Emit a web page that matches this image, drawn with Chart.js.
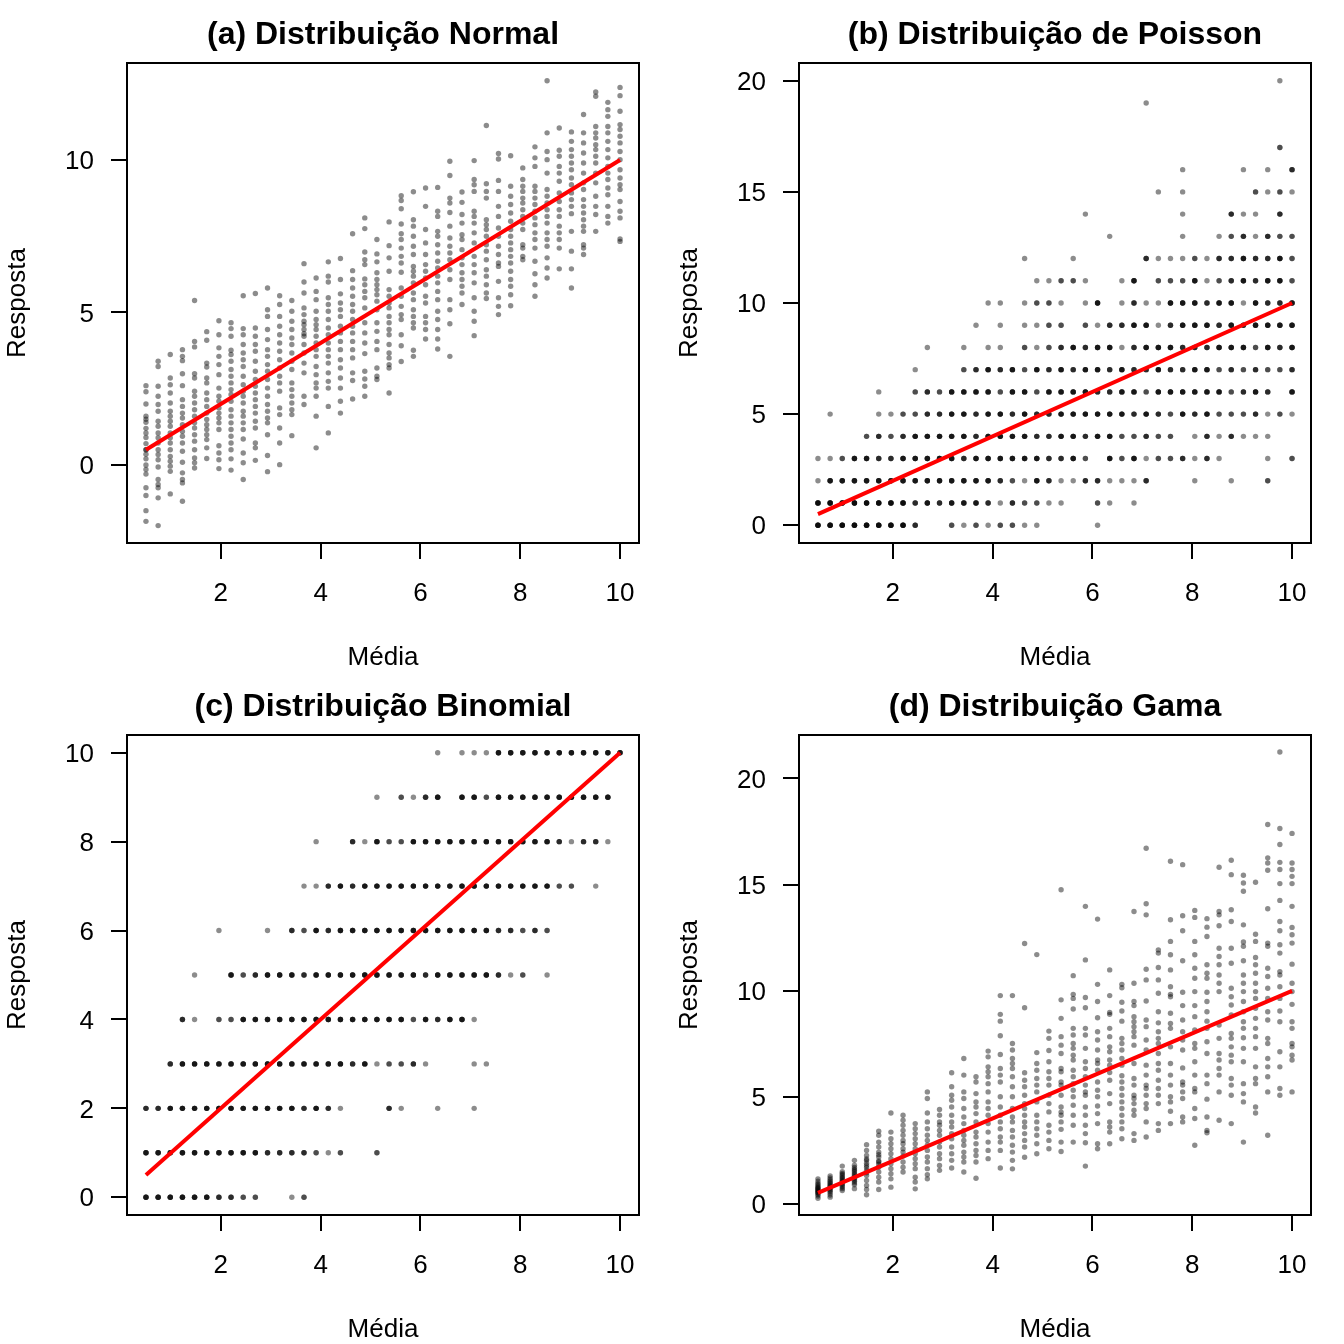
<!DOCTYPE html>
<html>
<head>
<meta charset="utf-8">
<script src="https://cdn.jsdelivr.net/npm/chart.js@4.4.1/dist/chart.umd.min.js"></script>
<style>
  html, body { margin: 0; padding: 0; background: #fff; }
  #grade { position: relative; width: 1344px; height: 1344px; }
  #grade canvas { position: absolute; }
</style>
</head>
<body>
<div id="grade">
  <canvas id="painelA" width="672" height="672" style="left:0;top:0"></canvas>
  <canvas id="painelB" width="672" height="672" style="left:672px;top:0"></canvas>
  <canvas id="painelC" width="672" height="672" style="left:0;top:672px"></canvas>
  <canvas id="painelD" width="672" height="672" style="left:672px;top:672px"></canvas>
</div>
<script>
// medias usadas no eixo x (40 colunas)
const mediaCols = [0.5, 0.744, 0.987, 1.231, 1.474, 1.718, 1.962, 2.205, 2.449, 2.692,
  2.936, 3.179, 3.423, 3.667, 3.91, 4.154, 4.397, 4.641, 4.885, 5.128,
  5.372, 5.615, 5.859, 6.103, 6.346, 6.59, 6.833, 7.077, 7.321, 7.564,
  7.808, 8.051, 8.295, 8.538, 8.782, 9.026, 9.269, 9.513, 9.756, 10]

// reta media = resposta
const linhaX = [0.5, 10]
const linhaY = [0.5, 10]

const titulos = ['(a) Distribuição Normal', '(b) Distribuição de Poisson',
  '(c) Distribuição Binomial', '(d) Distribuição Gama']
const ticksX = [2, 4, 6, 8, 10]

// (a) Normal: respostas por coluna
const respNormal = [
  [2.6,2.4,2.0,1.6,1.5,1.4,1.2,1.05,0.9,0.7,0.5,0.5,0.35,0.2,0.0,-0.15,-0.3,-0.75,-1.0,-1.5,-1.85],
  [3.4,3.23,2.58,2.25,1.98,1.76,1.43,1.27,1.05,0.89,0.72,0.5,0.34,0.17,-0.07,-0.48,-0.64,-0.75,-1.08,-1.99],
  [3.62,2.85,2.63,2.36,2.03,1.76,1.6,1.43,1.27,1.05,0.89,0.72,0.5,0.28,0.12,-0.04,-0.21,-0.95],
  [3.78,3.56,3.42,2.99,2.6,2.14,1.92,1.7,1.54,1.32,1.1,0.94,0.72,0.45,0.09,-0.26,-0.48,-0.59,-1.19],
  [5.39,4.05,3.87,2.99,2.85,2.42,2.25,2.03,1.81,1.6,1.38,1.21,0.99,0.78,0.5,0.23,0.07,-0.1],
  [4.37,4.09,3.34,3.21,2.85,2.69,2.36,2.14,1.92,1.7,1.49,1.32,1.16,0.99,0.83,0.56,0.21],
  [4.73,4.27,3.84,3.56,3.29,2.96,2.52,2.25,2.09,1.87,1.7,1.54,1.38,1.16,0.63,0.39,0.17,-0.12],
  [4.66,4.47,4.22,3.76,3.62,3.4,3.13,2.91,2.69,2.47,2.31,2.09,1.81,1.6,1.38,1.16,0.94,0.72,0.5,0.2,-0.17],
  [5.55,4.47,4.27,3.95,3.67,3.45,3.23,2.91,2.63,2.42,2.25,2.03,1.76,1.6,1.38,1.16,0.85,0.39,0.07,-0.48],
  [5.62,4.49,4.22,3.95,3.73,3.4,3.07,2.8,2.58,2.36,2.14,1.92,1.7,1.43,1.21,0.72,0.56,0.15],
  [5.8,5.09,4.87,4.44,4.11,3.78,3.56,3.29,3.07,2.8,2.52,2.25,1.98,1.76,1.54,1.38,0.99,0.31,-0.22],
  [5.55,5.26,4.87,4.55,4.27,4.0,3.73,3.45,3.18,2.91,2.69,2.42,1.87,1.65,1.21,0.72,0.01],
  [5.39,5.04,4.71,4.44,4.16,3.95,3.67,3.4,3.13,2.69,2.47,2.25,2.03,1.81,1.65,0.96],
  [6.6,6.0,5.64,5.15,4.93,4.71,4.6,4.44,4.3,4.22,3.95,3.67,3.34,3.02,2.25,1.98],
  [6.13,5.69,5.42,5.04,4.77,4.6,4.44,4.22,4.0,3.78,3.56,3.23,2.96,2.69,2.52,2.25,1.6,0.56],
  [6.66,6.19,6.0,5.48,5.26,5.04,4.77,4.49,4.27,4.0,3.78,3.56,3.34,3.02,2.74,2.52,1.92,1.05],
  [6.77,6.08,5.61,5.31,5.09,4.87,4.55,4.33,4.05,3.78,3.45,3.18,2.85,2.52,2.09,1.7],
  [7.58,6.37,6.08,5.8,5.53,5.26,5.04,4.77,4.55,4.33,4.05,3.78,3.51,3.02,2.77,2.16],
  [8.1,7.75,6.98,6.73,6.57,6.1,5.91,5.69,5.48,5.15,4.66,4.33,4.0,3.65,3.07,2.82,2.58,2.25],
  [7.39,6.92,6.66,6.3,6.08,5.91,5.75,5.58,5.37,5.09,4.66,4.38,4.05,3.78,3.18,2.91,2.8],
  [7.97,7.19,6.79,6.35,5.75,5.53,5.31,5.15,4.87,4.66,4.44,4.27,3.95,3.67,3.51,3.29,3.18,2.36],
  [8.83,8.67,8.4,7.9,7.58,7.39,7.11,6.84,6.62,6.32,5.8,5.53,5.2,4.93,4.77,4.27,3.91,3.39],
  [8.96,8.04,7.83,7.5,7.17,6.9,6.51,6.35,6.19,5.97,5.64,5.42,5.09,4.87,4.66,4.49,3.76,3.56],
  [9.08,8.48,7.72,7.28,6.9,6.57,6.35,6.13,5.91,5.53,5.31,4.87,4.66,4.44,4.13],
  [9.1,8.32,8.15,7.66,7.5,7.22,6.95,6.68,6.46,6.19,5.97,5.69,5.42,5.04,4.77,4.44,4.13,3.8],
  [9.96,9.49,8.75,8.59,8.28,7.83,7.44,7.17,6.95,6.73,6.4,6.08,5.42,5.09,4.63,3.56],
  [8.95,8.61,8.21,7.93,7.55,7.39,7.06,6.79,6.57,6.3,6.08,5.86,5.64,5.26],
  [9.98,9.36,9.19,8.97,8.32,8.15,7.93,7.61,7.28,6.84,6.57,6.3,5.97,5.48,5.04,4.71,4.24],
  [11.13,9.22,8.97,8.75,8.04,7.88,7.72,7.5,7.22,7.01,6.73,6.4,6.19,5.91,5.64,5.46],
  [10.21,10.03,9.33,8.97,8.48,8.15,7.77,7.5,7.17,6.9,6.62,6.51,6.02,5.48,5.2,4.93],
  [10.14,9.14,8.81,8.54,8.26,7.99,7.72,7.5,7.28,7.06,6.84,6.62,6.35,6.08,5.86,5.58,5.22],
  [9.74,9.36,9.14,8.97,8.75,8.59,8.37,8.15,7.93,7.72,7.22,7.11,6.84,6.73],
  [10.43,10.07,9.79,9.14,8.97,8.75,8.54,8.32,8.1,7.88,7.61,7.39,7.11,6.68,6.27,5.91,5.53],
  [12.6,10.89,10.28,10.01,9.57,9.03,8.81,8.59,8.37,8.15,7.93,7.61,7.39,7.17,6.79,6.46,6.13],
  [11.05,10.32,10.12,9.79,9.57,9.3,8.92,8.64,8.37,8.15,7.83,7.61,7.39,7.11,6.43],
  [10.92,10.61,10.34,10.12,9.9,9.68,9.41,9.19,8.92,8.7,8.48,8.24,7.66,7.01,6.43,5.8],
  [11.49,10.89,10.56,10.23,9.9,9.57,9.25,9.03,8.7,8.48,8.26,8.04,7.83,7.66,7.22,7.11,6.9],
  [12.23,12.09,11.1,10.89,10.72,10.5,10.34,10.12,9.9,9.57,9.25,8.81,8.48,8.21,7.66],
  [11.89,11.65,11.43,11.1,10.89,10.61,10.34,10.07,9.79,9.57,9.36,9.08,8.86,8.48,8.15,7.93],
  [12.38,12.11,11.6,11.16,11.0,10.78,10.56,10.28,10.01,9.68,9.41,9.19,9.03,8.64,8.32,8.1,7.41,7.33]
]

// (b) Poisson: quantos pontos em cada celula (linha = resposta 0..20, 40 colunas)
const contPoisson = [
  '5555555530 0212122110 0001000000 0000000000',
  '5555555534 3444313221 1002101000 0000000000',
  '1444444444 4444432143 1133111300 0100100200',
  '1124433444 4434444443 3420424122 3131000102',
  '0000232344 4443444433 4434422322 0131311100',
  '0100011223 3443443433 4444443432 4342223121',
  '0000010023 2444424424 4443344244 4444234304',
  '0000000010 0023434243 4344343343 3442323223',
  '0000000001 0010110212 3434413444 3334442434',
  '0000000000 0001010112 2021334413 4443434444',
  '0000000000 0000110122 1014013114 4434414334',
  '0000000000 0000000011 2210014022 2412343442',
  '0000000000 0000000100 0100000311 1213343342',
  '0000000000 0000000000 0000100000 1001231322',
  '0000000000 0000000000 0010000000 1000311030',
  '0000000000 0000000000 0000000010 1000002121',
  '0000000000 0000000000 0000000000 1000010103',
  '0000000000 0000000000 0000000000 0000000020',
  '0000000000 0000000000 0000000000 0000000000',
  '0000000000 0000000000 0000000100 0000000000',
  '0000000000 0000000000 0000000000 0000000010'
]

// (c) Binomial: idem, respostas 0..10
const contBinomial = [
  '4444443322 0012000000 0000000000 0000000000',
  '4444444444 3333212002 0000000000 0000000000',
  '3344444444 4443431000 3100100100 0000000000',
  '0034444444 4444444341 2231000110 0000000000',
  '0003102244 4444444444 4424344100 0000000000',
  '0000100423 4443444444 4443444443 1201000000',
  '0000001000 1032434444 4444444443 3232000000',
  '0000000000 0001134344 4444444444 4444220100',
  '0000000000 0000100314 2244444444 4444313310',
  '0000000000 0000000001 0213404424 4444444440',
  '0000000000 0000000000 0000101114 4444444444'
]

// (d) Gama: respostas por coluna
const respGama = [
  [1.16,1.05,0.95,0.88,0.82,0.77,0.72,0.68,0.64,0.6,0.56,0.52,0.48,0.42,0.35,0.25],
  [1.3,1.2,1.12,1.05,0.98,0.92,0.86,0.8,0.75,0.7,0.64,0.58,0.5,0.4,0.3],
  [1.76,1.5,1.42,1.35,1.28,1.22,1.16,1.1,1.04,0.98,0.92,0.85,0.78,0.7,0.61],
  [2.03,1.8,1.7,1.62,1.55,1.48,1.4,1.33,1.26,1.19,1.12,1.05,0.97,0.88,0.7],
  [2.77,2.5,2.26,2.1,2.03,1.9,1.79,1.7,1.56,1.45,1.32,1.08,0.85,0.66,0.41],
  [3.4,3.21,2.89,2.66,2.42,2.3,2.19,2.0,1.95,1.85,1.71,1.48,1.24,1.01,0.66],
  [4.26,3.36,3.05,2.81,2.58,2.34,2.11,1.87,1.64,1.4,1.16,0.77],
  [4.15,3.92,3.68,3.44,3.21,2.97,2.81,2.58,2.42,2.23,1.95,1.71,1.48],
  [3.76,3.52,3.29,3.05,2.81,2.58,2.34,2.11,1.87,1.64,1.24,1.01,0.69],
  [5.25,4.94,4.26,3.84,3.52,3.21,2.97,2.74,2.5,2.19,1.95,1.64,1.35,1.16],
  [4.42,4.15,3.84,3.68,3.44,3.21,2.89,2.66,2.34,2.11,1.79,1.56],
  [6.15,5.49,5.09,4.86,4.54,4.15,3.84,3.6,3.29,3.05,2.66,2.34,2.03,1.67],
  [6.82,6.04,5.25,4.94,4.47,4.07,3.76,3.44,3.21,2.97,2.74,2.42,2.19,1.95,1.48],
  [5.96,5.72,5.17,4.78,4.54,4.23,3.84,3.36,3.13,2.81,2.5,2.26,1.95,1.19],
  [7.17,6.9,6.43,6.2,5.96,5.64,5.25,4.78,4.47,4.15,3.76,3.36,2.89,2.5,2.11],
  [9.78,8.9,8.58,7.89,7.01,6.35,6.04,5.72,5.02,4.54,4.15,3.84,3.52,3.13,2.89,2.5,1.67],
  [9.78,7.53,7.22,6.82,6.59,6.35,5.96,5.49,5.02,4.47,4.07,3.84,3.44,3.13,2.74,2.42,2.03,1.63],
  [12.23,9.21,6.15,5.8,5.49,5.09,4.7,4.47,4.15,3.84,3.6,3.29,2.97,2.66,2.18],
  [11.71,7.1,6.59,6.27,5.88,5.57,5.25,4.78,4.15,3.84,3.52,3.21,2.81,2.34],
  [8.11,7.77,7.2,6.67,6.2,5.88,5.57,5.09,4.7,4.31,3.68,3.36,2.97,2.58],
  [14.76,9.58,8.71,7.85,7.45,7.06,6.35,6.2,5.72,5.57,5.09,4.54,4.3,4.15,3.84,3.49,2.89,2.45],
  [10.72,9.84,9.65,9.15,8.24,7.93,7.53,7.3,6.98,6.75,6.27,5.96,5.64,5.33,5.02,4.62,4.15,3.68,2.89],
  [13.98,11.46,9.69,9.21,8.24,7.93,7.3,6.67,6.35,5.96,5.57,5.25,5.09,4.54,4.15,3.68,3.29,2.86,1.76],
  [13.38,10.31,9.5,8.74,8.08,7.69,7.22,6.75,6.59,6.27,5.72,5.33,5.02,4.59,4.23,3.76,2.81,2.58],
  [10.99,9.78,8.99,8.9,8.24,7.85,7.37,7.14,6.75,6.51,6.16,5.8,5.17,4.7,3.84,3.6,3.36,2.81],
  [10.31,10.15,9.47,9.06,8.58,7.77,7.53,7.22,6.82,6.51,6.01,5.72,5.41,5.09,4.78,4.47,4.15,3.84,3.52,3.05],
  [13.74,10.36,9.5,9.31,8.79,8.55,8.32,8.08,7.85,7.45,6.59,5.88,5.57,5.09,4.94,4.7,4.39,4.15,3.29,2.97],
  [16.71,14.1,13.58,11.02,10.52,9.53,8.63,8.32,7.69,7.22,6.51,6.04,5.57,5.41,5.09,4.7,4.47,3.84,3.13],
  [11.93,11.78,11.1,10.52,9.89,9.02,8.5,8.08,7.77,7.53,7.06,6.59,6.27,5.8,5.41,5.09,4.7,3.76,3.44],
  [16.1,13.35,12.33,11.7,10.99,10.2,9.84,9.73,8.95,8.47,8.24,7.37,6.59,6.04,5.57,5.02,4.78,4.34,3.76],
  [15.94,13.54,12.83,11.42,9.94,9.31,8.63,8.08,7.69,7.22,6.38,5.72,5.57,5.25,4.94,4.07,3.84],
  [13.79,13.46,12.33,11.7,11.07,10.6,9.97,9.31,8.79,8.16,7.53,7.3,6.67,6.04,5.41,5.25,4.47,4.0,2.74],
  [13.4,13.0,12.56,11.23,10.83,10.6,9.94,9.5,9.02,8.58,8.24,7.61,7.06,6.04,5.64,4.91,4.07,3.44,3.33],
  [15.82,13.74,13.58,13.07,12.01,11.62,11.23,10.75,10.36,9.97,8.4,7.77,7.06,6.75,6.35,6.04,5.25,3.92],
  [16.15,15.47,13.82,13.27,12.01,11.3,10.13,9.73,9.34,8.87,8.0,7.77,7.37,6.98,6.67,5.88,5.57,5.09,3.76],
  [15.44,15.08,14.69,13.11,12.3,12.1,11.42,10.75,10.36,9.97,9.5,9.02,8.55,8.24,7.8,7.3,6.67,5.64,5.17,4.78,2.89],
  [15.11,12.67,12.33,11.57,11.23,10.83,10.36,9.97,9.65,9.18,8.71,8.24,7.85,7.3,6.43,5.88,5.64,4.54,4.26],
  [17.83,16.26,16.02,15.68,13.87,12.25,12.1,11.07,10.68,10.13,9.65,9.02,8.63,7.77,7.53,6.82,6.43,5.96,5.25,3.21],
  [21.24,17.64,16.89,16.05,15.71,15.05,14.26,13.27,12.83,12.17,11.78,10.91,10.75,10.2,9.65,9.06,8.55,7.14,6.43,5.41,5.09],
  [17.41,16.02,15.71,15.39,15.05,13.98,12.99,12.64,12.25,11.26,10.36,9.97,9.37,8.55,8.24,7.53,7.37,6.98,6.75,5.25]
]

// limites e marcas do eixo y de cada painel
const limitesY = [[-2.56, 13.18], [-0.8, 20.8], [-0.4, 10.4], [-0.54, 22.04]]
const passosY = [5, 5, 2, 5]

const fonte = "'Liberation Sans', Arial, Helvetica, sans-serif"

function pontosColunas(cols) {
  return cols.flatMap((ys, c) => ys.map(y => ({ x: mediaCols[c], y: y })))
}

function pontosGrade(linhas) {
  const pts = []
  linhas.forEach((linha, y) => {
    linha.replace(/ /g, '').split('').forEach((n, c) => {
      for (let k = 0; k < Number(n); k++) pts.push({ x: mediaCols[c], y: y })
    })
  })
  return pts
}

// moldura do grafico como o box() do R
const caixa = {
  id: 'caixa',
  afterDraw(chart) {
    const { ctx, chartArea: a } = chart
    ctx.save()
    ctx.strokeStyle = '#000'
    ctx.lineWidth = 2
    ctx.strokeRect(a.left, a.top, a.right - a.left, a.bottom - a.top)
    ctx.restore()
  }
}

function painel(id, i, pontos) {
  const ctx = document.getElementById(id).getContext('2d')
  return new Chart(ctx, {
    type: 'scatter',
    data: {
      datasets: [
        {
          data: linhaX.map((x, k) => ({ x: x, y: linhaY[k] })),
          showLine: true,
          borderColor: '#ff0000',
          borderWidth: 4,
          pointRadius: 0,
          order: 0
        },
        {
          data: pontos,
          backgroundColor: 'rgba(0,0,0,0.45)',
          borderWidth: 0,
          pointStyle: 'circle',
          pointRadius: 2.7,
          pointHoverRadius: 2.7,
          order: 1
        }
      ]
    },
    options: {
      responsive: false,
      devicePixelRatio: 1,
      animation: false,
      events: [],
      layout: { padding: { top: 0, right: 33, bottom: 0, left: 0 } },
      plugins: {
        legend: { display: false },
        tooltip: { enabled: false },
        title: {
          display: true,
          text: titulos[i],
          fullSize: false,
          color: '#000',
          font: { family: fonte, size: 32, weight: 'bold', lineHeight: 1.2 },
          padding: { top: 15.8, bottom: 8.8 }
        }
      },
      scales: {
        x: {
          type: 'linear',
          min: 0.12,
          max: 10.38,
          afterFit(s) { s.height = 129 },
          afterBuildTicks(s) { s.ticks = ticksX.map(v => ({ value: v })) },
          border: { display: false },
          grid: { drawOnChartArea: false, drawTicks: true, tickLength: 16, color: '#000', lineWidth: 2 },
          ticks: { color: '#000', padding: 19, maxRotation: 0, font: { family: fonte, size: 26 } },
          title: { display: true, text: 'Média', color: '#000', padding: { top: 0, bottom: 0 },
            font: { family: fonte, size: 26, lineHeight: 1.1 } }
        },
        y: {
          type: 'linear',
          min: limitesY[i][0],
          max: limitesY[i][1],
          afterFit(s) { s.width = 127 },
          border: { display: false },
          grid: { drawOnChartArea: false, drawTicks: true, tickLength: 16, color: '#000', lineWidth: 2 },
          ticks: { stepSize: passosY[i], includeBounds: false, color: '#000', padding: 17, labelOffset: 2,
            font: { family: fonte, size: 26 } },
          title: { display: true, text: 'Resposta', color: '#000', padding: { top: 2, bottom: 0 },
            font: { family: fonte, size: 26 } }
        }
      }
    },
    plugins: [caixa]
  })
}

painel('painelA', 0, pontosColunas(respNormal))
painel('painelB', 1, pontosGrade(contPoisson))
painel('painelC', 2, pontosGrade(contBinomial))
painel('painelD', 3, pontosColunas(respGama))
</script>
</body>
</html>
